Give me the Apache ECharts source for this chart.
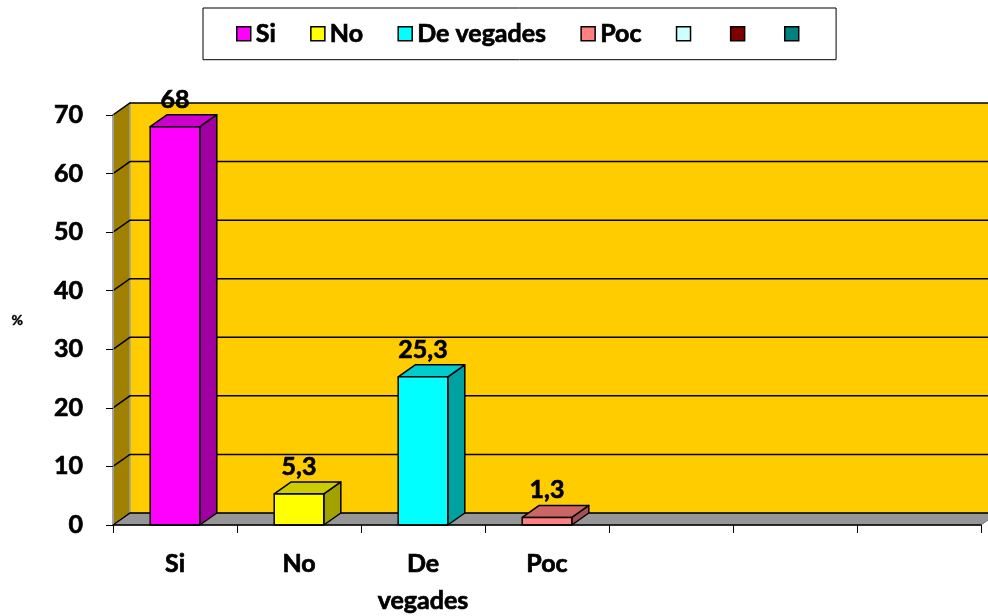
<!DOCTYPE html>
<html><head><meta charset="utf-8">
<script src="https://cdn.jsdelivr.net/npm/echarts@6/dist/echarts.min.js"></script>
<style>html,body{margin:0;padding:0;background:#fff}#c{width:988px;height:616px}</style>
</head><body><div id="c"></div>
<script>
const categories = ['Si', 'No', 'De\nvegades', 'Poc', '', '', ''];
const legendNames = ['Si', 'No', 'De vegades', 'Poc', '\u200b', '\u200c', '\u200d'];
const values = [68, 5.3, 25.3, 1.3, null, null, null];
const colors = ['#FF00FF', '#FFFF00', '#00FFFF', '#FF8080', '#CCFFFF', '#800000', '#008080'];
const yTicks = [0, 10, 20, 30, 40, 50, 60, 70];

const FONT = 'Lato';
const TB = 0.7; // text thickening stroke
const DX = 17, DY = -12;

function shade(hex, f) {
  const n = parseInt(hex.slice(1), 16);
  const r = Math.round(((n >> 16) & 255) * f), g = Math.round(((n >> 8) & 255) * f), b = Math.round((n & 255) * f);
  return 'rgb(' + r + ',' + g + ',' + b + ')';
}

const chart = echarts.init(document.getElementById('c'), null, { renderer: 'canvas' });

const wallSeries = {
  type: 'custom', name: '__walls', silent: true, z: 1,
  data: [[0, 0]],
  encode: { x: 0, y: 1 },
  renderItem(params, api) {
    const cs = params.coordSys;
    const x0 = cs.x, x1 = cs.x + cs.width, yb = cs.y + cs.height, yt = cs.y;
    const children = [];
    children.push({ type: 'rect', shape: { x: x0 + DX, y: yt + DY, width: cs.width, height: cs.height }, style: { fill: '#FFCC00' } });
    children.push({ type: 'polygon', shape: { points: [[x0, yb], [x0, yt], [x0 + DX, yt + DY], [x0 + DX, yb + DY]] }, style: { fill: '#A08000', stroke: '#A0A0A0', lineWidth: 1.5 } });
    children.push({ type: 'polygon', shape: { points: [[x0, yb], [x0 + DX, yb + DY], [x1 + DX, yb + DY], [x1, yb]] }, style: { fill: '#969696', stroke: '#777', lineWidth: 1 } });
    yTicks.forEach(v => {
      const y = api.coord([0, v])[1];
      children.push({ type: 'polyline', shape: { points: [[x0, y], [x0 + DX, y + DY], [x1 + DX, y + DY]] }, style: { stroke: '#000', lineWidth: 1.5, fill: null } });
    });
    return { type: 'group', children };
  }
};

const barSeries = legendNames.map((name, i) => ({
  type: 'custom', name, z: 3,
  itemStyle: { color: colors[i] },
  data: values[i] == null ? [] : [[i, values[i]]],
  encode: { x: 0, y: 1 },
  renderItem(params, api) {
    const idx = api.value(0), v = api.value(1);
    const base = api.coord([idx, 0]), top = api.coord([idx, v]);
    const bw = api.size([1, 0])[0] * 0.4;
    const xl = base[0] - bw / 2, xr = base[0] + bw / 2, yb = base[1], yt = top[1];
    const c = colors[i];
    const st = { stroke: '#000', lineWidth: 1.5, lineJoin: 'round' };
    return {
      type: 'group', children: [
        { type: 'polygon', shape: { points: [[xr, yb], [xr, yt], [xr + DX, yt + DY], [xr + DX, yb + DY]] }, style: Object.assign({}, st, { fill: shade(c, 0.63) }) },
        { type: 'polygon', shape: { points: [[xl, yt], [xl + DX, yt + DY], [xr + DX, yt + DY], [xr, yt]] }, style: Object.assign({}, st, { fill: shade(c, 0.8) }) },
        { type: 'rect', shape: { x: xl, y: yt, width: bw, height: yb - yt }, style: Object.assign({}, st, { fill: c }) },
        { type: 'text', x: base[0], y: yt - 27, style: { text: String(v).replace('.', ','), font: 'bold 25px ' + FONT, fill: '#000', stroke: '#000', lineWidth: TB, align: 'center', verticalAlign: 'middle' } }
      ]
    };
  }
}));

chart.setOption({
  animation: false,
  backgroundColor: '#fff',
  grid: { left: 113, right: 7, top: 115, bottom: 91, containLabel: false, outerBoundsMode: 'none' },
  legend: {
    left: 203, top: 8, padding: [13, 32, 13, 33],
    borderColor: '#000', borderWidth: 1, backgroundColor: '#fff',
    itemWidth: 14, itemHeight: 14, itemGap: 34, icon: 'rect', selectedMode: false,
    itemStyle: { borderColor: '#000', borderWidth: 1.5 },
    textStyle: { fontFamily: FONT, fontWeight: 'bold', fontSize: 25, color: '#000', textBorderColor: '#000', textBorderWidth: TB },
    data: legendNames
  },
  xAxis: {
    type: 'category', data: categories, z: 10,
    axisLine: { lineStyle: { color: '#000', width: 1.5 } },
    axisTick: { show: true, length: 8, interval: 0, lineStyle: { color: '#000', width: 1 } },
    axisLabel: { interval: 0, margin: 20, fontFamily: FONT, fontWeight: 'bold', fontSize: 25, color: '#000', lineHeight: 37, textBorderColor: '#000', textBorderWidth: TB },
    splitLine: { show: false }
  },
  yAxis: {
    type: 'value', min: 0, max: 70, interval: 10, z: 10,
    name: '%', nameLocation: 'middle', nameGap: 90, nameRotate: 0,
    nameTextStyle: { fontFamily: FONT, fontWeight: 'bold', fontSize: 14, color: '#000', textBorderColor: '#000', textBorderWidth: 0.4 },
    axisLine: { show: true, lineStyle: { color: '#A0A0A0', width: 1.5 } },
    axisTick: { show: true, length: 7, lineStyle: { color: '#000', width: 1 } },
    axisLabel: { margin: 30, fontFamily: FONT, fontWeight: 'bold', fontSize: 25, color: '#000', textBorderColor: '#000', textBorderWidth: TB },
    splitLine: { show: false }
  },
  series: [wallSeries].concat(barSeries)
});
</script>
</body></html>
